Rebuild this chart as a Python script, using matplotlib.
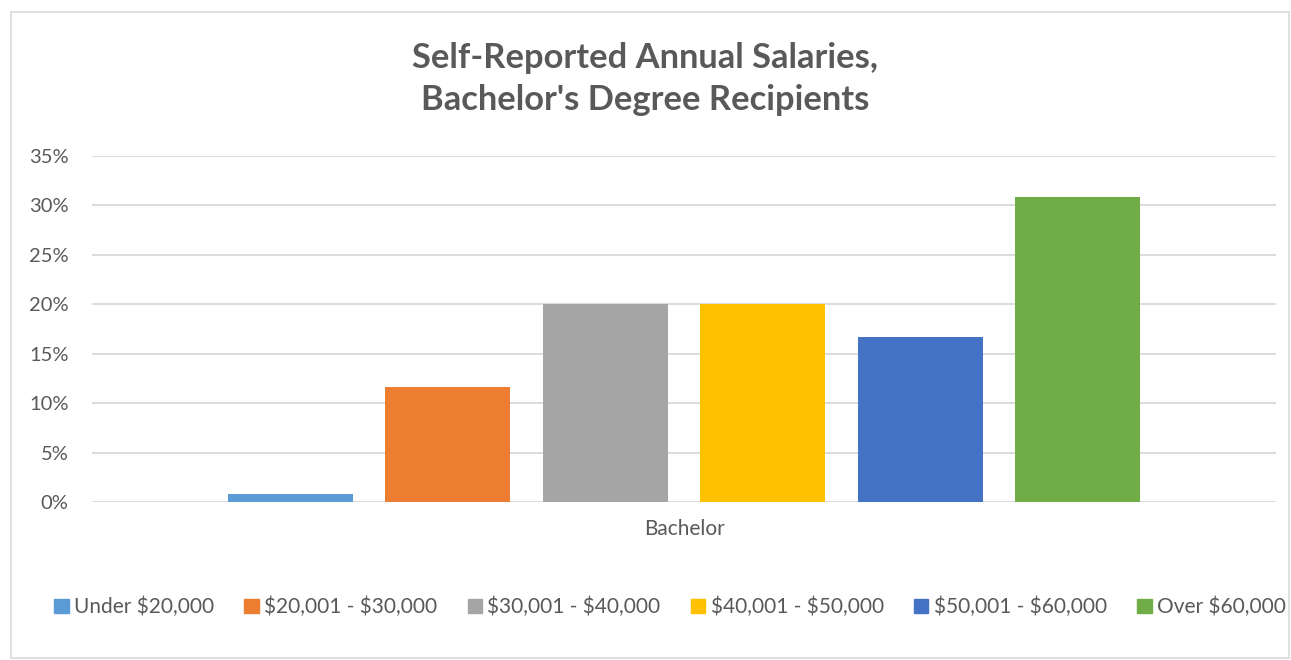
import matplotlib.pyplot as plt
from matplotlib.patches import Rectangle
from matplotlib.ticker import PercentFormatter

categories = ["Under $20,000", "$20,001 - $30,000", "$30,001 - $40,000",
              "$40,001 - $50,000", "$50,001 - $60,000", "Over $60,000"]
shares = [0.0083, 0.1167, 0.20, 0.20, 0.1667, 0.3083]
colors = ["#5B9BD5", "#ED7D31", "#A5A5A5", "#FFC000", "#4472C4", "#70AD47"]
yticks = [0, 0.05, 0.10, 0.15, 0.20, 0.25, 0.30, 0.35]
group_label = "Bachelor"

plt.rcParams['font.family'] = ['Lato', 'DejaVu Sans']
plt.rcParams['text.parse_math'] = False
txt = "#595959"

fig = plt.figure(figsize=(12.91, 6.60), dpi=100)
ax = fig.add_axes([92 / 1291, 1 - 502 / 660, (1276 - 92) / 1291, (502 - 156) / 660])

x = list(range(len(shares)))
ax.bar(x, shares, width=0.793, color=colors, zorder=3)

ax.set_xlim(-1.26, 6.26)
ax.set_ylim(0, 0.35)
ax.set_yticks(yticks)
ax.yaxis.set_major_formatter(PercentFormatter(1.0, decimals=0))
ax.grid(axis='y', color="#D9D9D9", linewidth=1.3, zorder=0)
for s in ax.spines.values():
    s.set_visible(False)
ax.tick_params(axis='y', length=0, pad=17, labelsize=14.5, labelcolor=txt)
ax.set_xticks([2.5])
ax.set_xticklabels([group_label])
ax.tick_params(axis='x', length=0, pad=12, labelsize=15, labelcolor=txt)

fig.text(0.5, 1 - 79 / 660, "Self-Reported Annual Salaries,\nBachelor's Degree Recipients",
         ha='center', va='center', fontsize=24.8, fontweight='bold', color=txt,
         linespacing=1.42)

handles = [Rectangle((0, 0), 1, 1, color=c) for c in colors]
leg = fig.legend(handles, categories, loc='center', bbox_to_anchor=(670 / 1291, 1 - 607 / 660),
                 ncol=6, frameon=False, fontsize=15, handlelength=0.7,
                 handleheight=0.7, handletextpad=0.25, columnspacing=1.45)
for t in leg.get_texts():
    t.set_color(txt)

fig.patches.append(Rectangle((11 / 1291, 2 / 660), 1278 / 1291, 646 / 660,
                             transform=fig.transFigure, fill=False,
                             edgecolor="#D9D9D9", linewidth=1.2))

fig.savefig("out.png", dpi=100)
